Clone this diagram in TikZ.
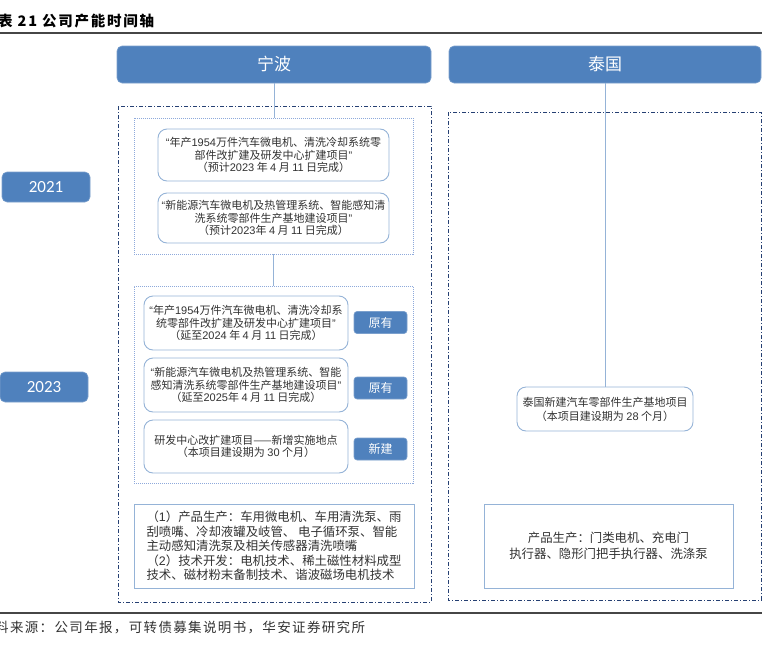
\documentclass[tikz,border=0pt]{standalone}
\usepackage{fontspec}
\setmainfont{Noto Sans CJK SC}
\newfontfamily\latfont{Liberation Sans}
\newfontfamily\yearfont{Carlito}
\newcommand{\lat}[1]{{\latfont #1}}
\definecolor{hdrblue}{RGB}{79,129,189}
\definecolor{boxline}{RGB}{149,179,215}
\definecolor{grpline}{RGB}{142,169,219}
\definecolor{navydash}{RGB}{38,64,115}
\definecolor{txtgray}{RGB}{50,50,50}
\definecolor{rulegray}{RGB}{70,70,70}

\begin{document}
\begin{tikzpicture}[x=1pt,y=1pt,yscale=-1,xscale=1,
  hdr/.style={fill=hdrblue,draw=hdrblue!75!white,line width=0.6pt,rounded corners=5pt,text=white,inner sep=0pt},
  tag/.style={hdr,rounded corners=3pt,minimum width=53pt,minimum height=22pt,font=\fontsize{12}{14}\selectfont},
  proj/.style={draw=boxline,line width=0.9pt,rounded corners=9pt,fill=white,text=txtgray,align=center,inner sep=0pt,font=\fontsize{11}{12.5}\selectfont},
  grp/.style={draw=grpline,line width=0.8pt,dash pattern={on 1pt off 1pt},inner sep=0pt},
  site/.style={draw=navydash,line width=0.9pt,dash pattern={on 4pt off 2pt on 1pt off 2pt}},
  info/.style={draw=boxline,line width=0.9pt,text=txtgray,inner sep=0pt,font=\fontsize{12.4}{14.5}\selectfont},
  link/.style={draw=boxline,line width=0.9pt}]
\useasboundingbox (0,0) rectangle (762,645);

% Text Node
\node[anchor=west,inner sep=0pt,font=\bfseries\fontsize{14.5}{16}\selectfont\addfontfeature{LetterSpace=12}] (title) at (-2,21) {表 21 公司产能时间轴};
%Straight Lines
\draw[rulegray,line width=1.5pt] (0,33) -- (762,33);
\draw[rulegray,line width=1.5pt] (0,613) -- (762,613);

%Shape: Rectangle (sites)
\draw[site] (118,106) rectangle (431,602);
\draw[site] (448,112) rectangle (761,600);

%Shape: Rounded Rect (headers and years)
\node[hdr,minimum width=314pt,minimum height=37pt,font=\fontsize{17}{20}\selectfont] (ningbo) at (274,64.5) {宁波};
\node[hdr,minimum width=312pt,minimum height=37pt,font=\fontsize{17}{20}\selectfont] (thai) at (605,64.5) {泰国};
\node[hdr,minimum width=88pt,minimum height=30pt,font=\yearfont\fontsize{17}{20}\selectfont] (y21) at (46,187) {2021};
\node[hdr,minimum width=88pt,minimum height=30pt,font=\yearfont\fontsize{17}{20}\selectfont] (y23) at (44,387) {2023};

%Shape: Rectangle (groups)
\node[grp,minimum width=279pt,minimum height=136pt] (grp21) at (273.5,186) {};
\node[grp,minimum width=279pt,minimum height=197pt] (grp23) at (273.5,384.5) {};

%Shape: Rounded Rect (projects 2021)
\node[proj,minimum width=231pt,minimum height=52pt] (pa) at (273.5,155) {\lat{“}年产\lat{1954}万件汽车微电机、清洗冷却系统零\\部件改扩建及研发中心扩建项目\lat{”}\\（预计\lat{2023} 年 \lat{4} 月 \lat{11} 日完成）};
\node[proj,minimum width=231pt,minimum height=50pt] (pb) at (273.5,218) {\lat{“}新能源汽车微电机及热管理系统、智能感知清\\洗系统零部件生产基地建设项目\lat{”}\\（预计\lat{2023}年 \lat{4} 月 \lat{11} 日完成）};

%Shape: Rounded Rect (projects 2023)
\node[proj,minimum width=204pt,minimum height=54pt] (pc) at (246,323) {\lat{“}年产\lat{1954}万件汽车微电机、清洗冷却系\\统零部件改扩建及研发中心扩建项目\lat{”}\\（延至\lat{2024} 年 \lat{4} 月 \lat{11} 日完成）};
\node[proj,minimum width=204pt,minimum height=54pt] (pd) at (246,385) {\lat{“}新能源汽车微电机及热管理系统、智能\\感知清洗系统零部件生产基地建设项目\lat{”}\\（延至\lat{2025}年 \lat{4} 月 \lat{11} 日完成）};
\node[proj,minimum width=204pt,minimum height=53pt] (pe) at (246,446.5) {研发中心改扩建项目——新增实施地点\\（本项目建设期为 \lat{30} 个月）};

%Shape: Rounded Rect (tags)
\node[tag] (tc) at (380.5,322.5) {原有};
\node[tag] (td) at (380.5,388) {原有};
\node[tag] (te) at (380.5,449) {新建};

%Shape: Rounded Rect (Thailand project)
\node[proj,minimum width=176pt,minimum height=44pt,font=\fontsize{11}{14}\selectfont] (pt) at (605,409) {泰国新建汽车零部件生产基地项目\\（本项目建设期为 \lat{28} 个月）};

%Shape: Rectangle (products)
\node[info,minimum width=280pt,minimum height=84pt,align=left] (infonb) at (274,546) {（\lat{1}）产品生产：车用微电机、车用清洗泵、雨\\刮喷嘴、冷却液罐及岐管、 电子循环泵、智能\\主动感知清洗泵及相关传感器清洗喷嘴\\（\lat{2}）技术开发：电机技术、稀土磁性材料成型\\技术、磁材粉末备制技术、谐波磁场电机技术};
\node[info,minimum width=249pt,minimum height=84pt,align=center,font=\fontsize{12.4}{16}\selectfont] (infoth) at (608.5,546) {产品生产：门类电机、充电门\\执行器、隐形门把手执行器、洗涤泵};

%Straight Lines (links)
\draw[link] (ningbo.south) -- (ningbo.south |- grp21.north);
\draw[link] (grp21.south) -- (grp23.north);
\draw[link] (thai.south) -- (pt.north);

% Text Node
\node[anchor=west,inner sep=0pt,text=txtgray,font=\fontsize{13.5}{16}\selectfont\addfontfeature{LetterSpace=10}] (src) at (-5,627) {料来源：公司年报，可转债募集说明书，华安证券研究所};
\end{tikzpicture}
\end{document}
